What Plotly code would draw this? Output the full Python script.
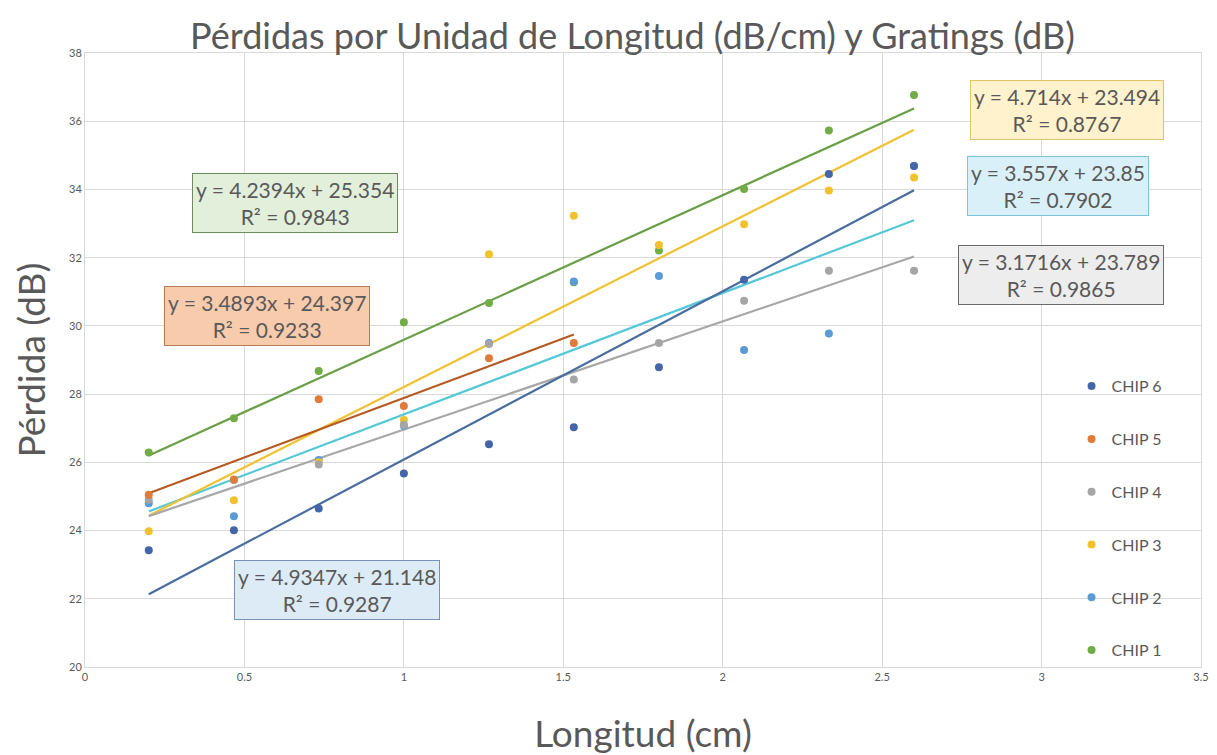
import plotly.graph_objects as go

longitud = [0.2, 0.467, 0.733, 1.0, 1.267, 1.533, 1.8, 2.067, 2.333, 2.6]

chip1 = [26.29, 27.29, 28.68, 30.11, 30.67, 31.28, 32.21, 34.01, 35.73, 36.77]
chip2 = [24.80, 24.42, 26.07, 27.07, 29.50, 31.30, 31.46, 29.29, 29.78, 34.69]
chip3 = [23.98, 24.89, 26.00, 27.24, 32.10, 33.23, 32.37, 32.98, 33.97, 34.35]
chip4 = [24.90, 25.48, 25.94, 27.10, 29.47, 28.43, 29.50, 30.74, 31.62, 31.62]
chip5 = [25.05, 25.50, 27.85, 27.65, 29.05, 29.50]
chip6 = [23.42, 24.01, 24.65, 25.67, 26.53, 27.03, 28.79, 31.35, 34.45, 34.69]

nombres = ["CHIP 1", "CHIP 2", "CHIP 3", "CHIP 4", "CHIP 5", "CHIP 6"]
series = [chip1, chip2, chip3, chip4, chip5, chip6]

# tendencias lineales tal como aparecen en las etiquetas
pendientes = [4.2394, 3.557, 4.714, 3.1716, 3.4893, 4.9347]
ordenadas = [25.354, 23.85, 23.494, 23.789, 24.397, 21.148]
r2 = ["0.9843", "0.7902", "0.8767", "0.9865", "0.9233", "0.9287"]

colores_marcador = ["#70AD47", "#5B9BD5", "#F2C12E", "#A5A5A5", "#E07B39", "#4466A8"]
colores_linea = ["#6A9F48", "#55C8D8", "#F0C232", "#A8A8A8", "#B65A22", "#4A6C9F"]
fondos = ["#E2EFDA", "#DAF0F8", "#FFF2CC", "#EDEDED", "#F8CBAD", "#DDEBF7"]
bordes = ["#6B8E5A", "#7FC4D4", "#E2C468", "#6A6A6A", "#B57B55", "#7892B5"]
# posición de cada etiqueta (centro, en unidades de datos)
pos_etiqueta = [(0.66, 33.6), (3.05, 34.1), (3.08, 36.33), (3.06, 31.49), (0.57, 30.29), (0.79, 22.25)]

GRIS = "#595959"
fig = go.Figure()

for i, (nombre, ys) in enumerate(zip(nombres, series)):
    xs = longitud[: len(ys)]
    x_lin = [xs[0], xs[-1]]
    y_lin = [pendientes[i] * x + ordenadas[i] for x in x_lin]
    fig.add_trace(
        go.Scatter(
            x=x_lin, y=y_lin, mode="lines",
            line=dict(color=colores_linea[i], width=2.2),
            showlegend=False, hoverinfo="skip",
        )
    )

for i, (nombre, ys) in enumerate(zip(nombres, series)):
    xs = longitud[: len(ys)]
    fig.add_trace(
        go.Scatter(
            x=xs, y=ys, mode="markers", name=nombre,
            legendgroup=nombre, legendrank=len(nombres) - i,
            marker=dict(color=colores_marcador[i], size=8),
        )
    )

for i in range(len(nombres)):
    fig.add_annotation(
        x=pos_etiqueta[i][0], y=pos_etiqueta[i][1],
        text=f"y = {pendientes[i]}x + {ordenadas[i]}<br>R² = {r2[i]}",
        showarrow=False,
        font=dict(family="Lato", size=21, color=GRIS),
        bgcolor=fondos[i], bordercolor=bordes[i], borderwidth=1,
        borderpad=3,
    )

# la página añade 8 px de margen al cuerpo: se compensa en el tamaño
fig.update_layout(
    width=1209, height=747,
    paper_bgcolor="white", plot_bgcolor="white",
    margin=dict(l=77, r=16, t=45, b=88),
    font=dict(family="Lato", color=GRIS),
    title=dict(
        text="Pérdidas por Unidad de Longitud (dB/cm) y Gratings (dB)",
        x=0.5165, xanchor="center", y=0.962, yanchor="middle",
        font=dict(size=36, color=GRIS),
    ),
    legend=dict(
        x=0.884, y=0.485, xanchor="left", yanchor="top",
        traceorder="grouped", tracegroupgap=29,
        font=dict(size=16, color=GRIS), bgcolor="rgba(0,0,0,0)",
        itemwidth=30,
    ),
)
fig.update_xaxes(
    range=[0, 3.5], dtick=0.5, showgrid=True, gridcolor="#D9D9D9",
    zeroline=False, showline=True, linecolor="#D9D9D9", mirror=True,
    tickfont=dict(size=11, color=GRIS), ticks="", automargin=False,
    title=dict(text="Longitud (cm)", font=dict(size=37, color=GRIS), standoff=40),
)
fig.update_yaxes(
    range=[20, 38], dtick=2, showgrid=True, gridcolor="#D9D9D9",
    zeroline=False, showline=True, linecolor="#D9D9D9", mirror=True,
    tickfont=dict(size=11, color=GRIS), ticks="", automargin=False,
    title=dict(text="Pérdida (dB)", font=dict(size=37, color=GRIS), standoff=19),
)

fig.write_html("out.html")
